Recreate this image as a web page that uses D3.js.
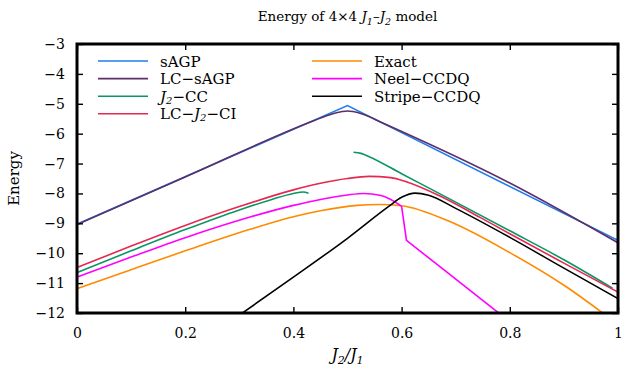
<!DOCTYPE html>
<html>
<head>
<meta charset="utf-8">
<script src="https://cdn.jsdelivr.net/npm/d3@7"></script>
<style>
body { margin: 0; background: #fff; }
text { font-family: "DejaVu Serif", serif; fill: #000; }
</style>
</head>
<body>
<svg id="chart" width="624" height="368"></svg>
<script>
const xTicks = [0, 0.2, 0.4, 0.6, 0.8, 1];
const yTicks = [-3, -4, -5, -6, -7, -8, -9, -10, -11, -12];

// [J2/J1, energy]
const sagp = [[0, -9.03], [0.5, -5.06], [1, -9.57]];
const lcSagp = [[0, -9.04], [0.2, -7.45], [0.44, -5.55], [0.47, -5.35], [0.49, -5.26], [0.5, -5.24],
    [0.51, -5.26], [0.53, -5.36], [0.56, -5.6], [0.8, -7.65], [1, -9.65]];
const j2ccLeft = [[0, -10.65], [0.1, -9.92], [0.2, -9.21], [0.3, -8.55], [0.36, -8.2], [0.4, -8.0],
    [0.418, -7.95], [0.428, -7.99]];
const j2ccRight = [[0.511, -6.62], [0.525, -6.66], [0.54, -6.77], [0.6, -7.34], [0.7, -8.29],
    [0.8, -9.25], [0.9, -10.22], [0.99, -11.17]];
const lcJ2ci = [[0, -10.48], [0.1, -9.76], [0.2, -9.07], [0.3, -8.44], [0.4, -7.88], [0.45, -7.66],
    [0.5, -7.5], [0.54, -7.43], [0.58, -7.47], [0.61, -7.62], [0.67, -8.08], [0.745, -8.8],
    [0.8, -9.35], [0.9, -10.33], [1, -11.3]];
const exact = [[0, -11.19], [0.1, -10.55], [0.2, -9.92], [0.32, -9.2], [0.4, -8.78], [0.45, -8.58],
    [0.518, -8.4], [0.56, -8.37], [0.6, -8.41], [0.689, -8.94], [0.8, -9.98], [0.905, -11.13], [0.99, -12.25]];
const neelSmooth = [[0, -10.8], [0.1, -10.13], [0.2, -9.48], [0.32, -8.79], [0.4, -8.4], [0.45, -8.2],
    [0.5, -8.05], [0.53, -8.0], [0.56, -8.06], [0.58, -8.2], [0.6, -8.43]];
const neelDrop = [[0.6, -8.43], [0.609, -9.57], [0.689, -10.71], [0.79, -12.15]];
const stripe = [[0.29, -12.2], [0.4, -10.8], [0.5, -9.5], [0.575, -8.45], [0.6, -8.13], [0.625, -7.99],
    [0.65, -8.06], [0.7, -8.5], [0.8, -9.47], [0.9, -10.5], [1, -11.52]];

const series = [
    {name: [{t: 'sAGP'}], color: '#1f7cf0', parts: [[sagp, d3.curveLinear]]},
    {name: [{t: 'LC\u2212sAGP'}], color: '#5c2f68', parts: [[lcSagp, d3.curveMonotoneX]]},
    {name: [{t: 'J', i: true}, {t: '2', sub: true}, {t: '\u2212CC'}], color: '#0a9566',
        parts: [[j2ccLeft, d3.curveMonotoneX], [j2ccRight, d3.curveMonotoneX]]},
    {name: [{t: 'LC\u2212'}, {t: 'J', i: true}, {t: '2', sub: true}, {t: '\u2212CI'}], color: '#e5284f',
        parts: [[lcJ2ci, d3.curveMonotoneX]]},
    {name: [{t: 'Exact'}], color: '#ff8a00', parts: [[exact, d3.curveMonotoneX]]},
    {name: [{t: 'Neel\u2212CCDQ'}], color: '#ff00ff',
        parts: [[neelSmooth, d3.curveMonotoneX], [neelDrop, d3.curveLinear]]},
    {name: [{t: 'Stripe\u2212CCDQ'}], color: '#000000', parts: [[stripe, d3.curveMonotoneX]]}
];

const margin = {left: 77, right: 6, top: 44, bottom: 55};
const width = 624, height = 368;

const svg = d3.select('#chart');

const xScale = d3.scaleLinear().domain([0, 1]).range([margin.left, width - margin.right]);
const yScale = d3.scaleLinear().domain([-3, -12]).range([margin.top, height - margin.bottom]);

function richText(sel, parts, subSize, shift) {
    parts.forEach((p, k) => {
        const ts = sel.append('tspan').text(p.t);
        if (p.i) ts.style('font-style', 'italic');
        if (p.sub) ts.attr('dy', shift).style('font-size', subSize + 'px').style('font-style', 'italic');
        else if (k > 0 && parts[k - 1].sub) ts.attr('dy', -shift);
    });
}

svg.append('clipPath').attr('id', 'clip')
    .append('rect')
    .attr('x', margin.left).attr('y', margin.top)
    .attr('width', width - margin.left - margin.right)
    .attr('height', height - margin.top - margin.bottom);

const plot = svg.append('g').attr('clip-path', 'url(#clip)');

series.forEach(s => {
    s.parts.forEach(([pts, curve]) => {
        plot.append('path')
            .datum(pts)
            .attr('fill', 'none')
            .attr('stroke', s.color)
            .attr('stroke-width', 1.6)
            .attr('d', d3.line().x(d => xScale(d[0])).y(d => yScale(d[1])).curve(curve));
    });
});

// axes, ticks pointing inward
const xAxisBottom = svg.append('g')
    .attr('transform', `translate(0, ${height - margin.bottom})`)
    .call(d3.axisBottom(xScale).tickValues(xTicks).tickSize(-6).tickPadding(15).tickFormat(d => String(d)));
const xAxisTop = svg.append('g')
    .attr('transform', `translate(0, ${margin.top})`)
    .call(d3.axisTop(xScale).tickValues(xTicks).tickSize(-6).tickFormat(''));
const yAxisLeft = svg.append('g')
    .attr('transform', `translate(${margin.left}, 0)`)
    .call(d3.axisLeft(yScale).tickValues(yTicks).tickSize(-6).tickPadding(12).tickFormat(d3.format('d')));
const yAxisRight = svg.append('g')
    .attr('transform', `translate(${width - margin.right}, 0)`)
    .call(d3.axisRight(yScale).tickValues(yTicks).tickSize(-6).tickFormat(''));

[xAxisBottom, xAxisTop, yAxisLeft, yAxisRight].forEach(a => {
    a.select('.domain').remove();
    a.selectAll('line').attr('stroke', '#000').attr('stroke-width', 1.4);
    a.selectAll('text').style('font-size', '14px').style('font-family', '"DejaVu Serif", serif').attr('fill', '#000');
});

svg.append('rect')
    .attr('x', margin.left).attr('y', margin.top)
    .attr('width', width - margin.left - margin.right)
    .attr('height', height - margin.top - margin.bottom)
    .attr('fill', 'none')
    .attr('stroke', '#000')
    .attr('stroke-width', 3);

// legend
const legendRow0 = 61, legendStep = 17.6;
series.forEach((s, i) => {
    const col = i < 4 ? 0 : 1;
    const row = i < 4 ? i : i - 4;
    const lx = col === 0 ? 98 : 312;
    const y = legendRow0 + row * legendStep;
    svg.append('line')
        .attr('x1', lx).attr('x2', lx + 50)
        .attr('y1', y).attr('y2', y)
        .attr('stroke', s.color).attr('stroke-width', 1.6);
    const t = svg.append('text')
        .attr('x', lx + 62).attr('y', y + 5.5)
        .style('font-size', '15px');
    richText(t, s.name, 10, 2);
});

// title
const title = svg.append('text')
    .attr('x', (margin.left + width - margin.right) / 2)
    .attr('y', 21)
    .attr('text-anchor', 'middle')
    .style('font-size', '13.5px');
richText(title, [{t: 'Energy of 4\u00d74 '}, {t: 'J', i: true}, {t: '1', sub: true},
    {t: '\u2013'}, {t: 'J', i: true}, {t: '2', sub: true}, {t: ' model'}], 9.5, 3.5);

// axis labels
const xLabel = svg.append('text')
    .attr('x', (margin.left + width - margin.right) / 2)
    .attr('y', 360)
    .attr('text-anchor', 'middle')
    .style('font-size', '16px');
richText(xLabel, [{t: 'J', i: true}, {t: '2', sub: true}, {t: '/', i: true},
    {t: 'J', i: true}, {t: '1', sub: true}], 11, 4);

svg.append('text')
    .attr('transform', `translate(19, ${(margin.top + height - margin.bottom) / 2}) rotate(-90)`)
    .attr('text-anchor', 'middle')
    .style('font-size', '15px')
    .text('Energy');
</script>
</body>
</html>
